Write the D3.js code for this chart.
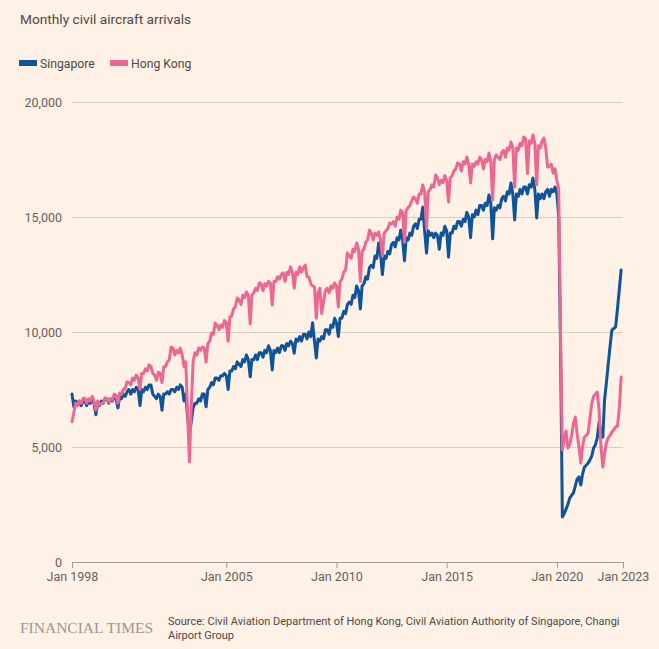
<!DOCTYPE html>
<html>
<head>
<meta charset="utf-8">
<script src="https://cdn.jsdelivr.net/npm/d3@7"></script>
<style>
  html, body { margin: 0; padding: 0; background: #fff1e5; }
  svg { display: block; }
  text { font-family: Roboto, "Noto Sans", sans-serif; }
</style>
</head>
<body>
<svg id="chart" width="659" height="649"></svg>
<script>
// ---- Data (monthly, Jan 1998 – Dec 2022) ----
const startYear = 1998;
const seriesNames = ["Singapore", "Hong Kong"];
const seriesColors = ["#0f5499", "#ec6792"];

const singapore = [
  7300, 6750, 7000, 6900, 7000, 6800, 7000, 7000, 6800, 7000, 6900, 7100,   // 1998
  6900, 6400, 6900, 6800, 7000, 6900, 7100, 7100, 6900, 7100, 7000, 7200,   // 1999
  7100, 6700, 7200, 7100, 7300, 7200, 7400, 7500, 7300, 7500, 7400, 7600,   // 2000
  7500, 6800, 7500, 7400, 7600, 7500, 7700, 7700, 7300, 7200, 7100, 7300,   // 2001
  7200, 6600, 7300, 7300, 7400, 7300, 7500, 7500, 7400, 7600, 7500, 7700,   // 2002
  7600, 7000, 7300, 6300, 5600, 6100, 6700, 6900, 6900, 7100, 7000, 7300,   // 2003
  7300, 6750, 7500, 7600, 7800, 7700, 8000, 8000, 7900, 8100, 8100, 8200,   // 2004
  8100, 7500, 8300, 8300, 8500, 8400, 8700, 8600, 8500, 8800, 8700, 9000,   // 2005
  8800, 8050, 8800, 8800, 9000, 8800, 9100, 9100, 8900, 9200, 9100, 9400,   // 2006
  9200, 8350, 9200, 9100, 9300, 9100, 9400, 9400, 9200, 9500, 9400, 9600,   // 2007
  9500, 9080, 9700, 9600, 9800, 9600, 9900, 9900, 9700, 10000, 9800, 10400, // 2008
  9600, 8870, 9700, 9600, 9800, 9700, 10100, 10100, 9900, 10300, 10200, 10600, // 2009
  10400, 9800, 10600, 10600, 10900, 10800, 11200, 11300, 11200, 11600, 11500, 12000, // 2010
  11800, 11000, 12000, 12100, 12400, 12300, 12800, 12900, 12800, 13300, 13200, 13870, // 2011
  13400, 12500, 13300, 13200, 13500, 13400, 13800, 13900, 13700, 14100, 14000, 14430, // 2012
  14000, 13100, 14100, 14000, 14300, 14200, 14600, 14700, 14500, 14900, 14900, 15430, // 2013
  14400, 13430, 14400, 14200, 14300, 14100, 14300, 14200, 13600, 14300, 14200, 14600, // 2014
  14400, 13260, 14300, 14300, 14600, 14500, 14800, 14800, 14600, 14900, 14800, 15200, // 2015
  15000, 14100, 15100, 15000, 15300, 15100, 15500, 15500, 15300, 15600, 15500, 15960, // 2016
  15600, 14050, 15400, 15300, 15500, 15400, 15800, 15900, 15700, 16100, 16000, 16480, // 2017
  16000, 14870, 16000, 15900, 16200, 16000, 16300, 16300, 16000, 16400, 16300, 16700, // 2018
  16200, 14960, 16000, 15800, 16000, 15800, 16100, 16200, 15900, 16200, 16100, 16300, // 2019
  16000, 15000, 9500, 1960, 2100, 2300, 2500, 2780, 2900, 3000, 3300, 3600,         // 2020
  3700, 3350, 3800, 4130, 4200, 4300, 4430, 4600, 4960, 5100, 5400, 6090,           // 2021
  5600, 5430, 7040, 7800, 8600, 9400, 10090, 10150, 10220, 11000, 11850, 12700      // 2022
];

const hongKong = [
  6100, 6500, 6900, 6800, 7000, 6900, 7100, 7130, 6900, 7100, 7000, 7200,   // 1998
  7000, 6600, 7000, 6830, 6900, 6900, 7130, 7100, 6950, 7100, 7050, 7300,   // 1999
  7250, 6900, 7350, 7300, 7500, 7550, 7830, 7800, 7700, 8000, 7900, 8130,   // 2000
  8000, 7500, 8200, 8200, 8400, 8300, 8570, 8500, 8200, 8130, 7900, 8250,   // 2001
  8200, 7800, 8480, 8500, 8700, 8800, 9350, 9300, 9000, 9200, 9090, 9300,   // 2002
  9000, 8500, 8700, 6500, 4350, 6800, 8700, 9100, 9000, 9300, 9200, 9350,   // 2003
  9300, 8700, 9500, 9600, 9960, 9900, 10390, 10300, 10100, 10300, 10200, 10500, // 2004
  10400, 9600, 10650, 10700, 11000, 11100, 11480, 11400, 11200, 11600, 11500, 11740, // 2005
  11600, 10350, 11600, 11700, 11900, 11800, 12130, 12100, 11800, 12100, 12000, 12200, // 2006
  12130, 11170, 12200, 12200, 12400, 12300, 12500, 12570, 12200, 12600, 12500, 12830, // 2007
  12600, 11910, 12600, 12500, 12830, 12600, 12800, 12910, 12400, 12390, 12100, 12000, // 2008
  11960, 10600, 11700, 11900, 10800, 11300, 11800, 11900, 11700, 12000, 11900, 12130, // 2009
  12000, 11090, 12200, 12300, 12610, 12700, 13430, 13300, 13200, 13600, 13500, 13870, // 2010
  13600, 12200, 13500, 13600, 13900, 14000, 14430, 14300, 14000, 14300, 14200, 14350, // 2011
  14000, 13300, 14300, 14400, 14500, 14740, 14700, 14800, 14600, 15000, 14900, 15300, // 2012
  15200, 13900, 15300, 15400, 15500, 15700, 15870, 15800, 15600, 16000, 16000, 16390, // 2013
  16100, 14500, 16100, 16200, 16400, 16300, 16830, 16700, 16400, 16600, 16500, 16800, // 2014
  16600, 15650, 16700, 16800, 17000, 17100, 17350, 17300, 17000, 17400, 17300, 17610, // 2015
  17300, 16480, 17300, 17200, 17400, 17300, 17600, 17500, 17100, 17500, 17400, 17780, // 2016
  17400, 15740, 17500, 17700, 17600, 17500, 17800, 17900, 17600, 18000, 17900, 18260, // 2017
  18000, 16300, 18000, 17900, 18200, 18100, 18480, 18400, 16900, 18300, 18200, 18570, // 2018
  18200, 16400, 18100, 18000, 18300, 18430, 18000, 17170, 17200, 17300, 16910, 17100, // 2019
  16600, 16200, 10000, 4870, 5300, 5700, 4960, 5100, 5500, 6000, 6300, 5600,        // 2020
  5000, 4300, 5000, 5430, 5500, 5600, 6200, 6900, 7200, 7300, 7390, 6600,           // 2021
  5000, 4130, 4700, 5170, 5400, 5500, 5650, 5750, 5870, 5900, 6700, 8040            // 2022
];

const yTicks = [0, 5000, 10000, 15000, 20000];
const xTickYears = [1998, 2005, 2010, 2015, 2020, 2023];
const titleText = "Monthly civil aircraft arrivals";
const sourceLines = [
  "Source: Civil Aviation Department of Hong Kong, Civil Aviation Authority of Singapore, Changi",
  "Airport Group"
];

// ---- Layout ----
const svg = d3.select("#chart");
const W = 659, H = 649;
const plotLeft = 72, plotRight = 623, plotTop = 102, plotBottom = 562;

svg.append("rect").attr("width", W).attr("height", H).attr("fill", "#fff1e5");

const x = d3.scaleTime()
  .domain([new Date(startYear, 0, 1), new Date(2023, 0, 1)])
  .range([plotLeft, plotRight]);
const y = d3.scaleLinear().domain([0, 20000]).range([plotBottom, plotTop]);

// Title
svg.append("text").attr("x", 20).attr("y", 24)
  .attr("font-size", 13.7).attr("fill", "#4d4845").text(titleText);

// Legend
const legend = svg.append("g");
const legendX = [19, 110];
seriesNames.forEach((name, i) => {
  legend.append("rect").attr("x", legendX[i]).attr("y", 60)
    .attr("width", 18).attr("height", 6).attr("fill", seriesColors[i]);
  legend.append("text").attr("x", legendX[i] + 21).attr("y", 67.5)
    .attr("font-size", 12.2).attr("fill", "#4d4845").text(name);
});

// Y axis with gridlines
const yAxis = svg.append("g").attr("transform", `translate(${plotLeft},0)`)
  .call(d3.axisLeft(y).tickValues(yTicks).tickSize(-(plotRight - plotLeft)).tickPadding(10)
    .tickFormat(d3.format(",")));
yAxis.select(".domain").remove();
yAxis.selectAll(".tick line").attr("stroke", "#d9cdc2").attr("stroke-width", 1);
yAxis.selectAll(".tick text").attr("font-size", 12.5).attr("fill", "#66605c")
  .style("font-family", "Roboto, sans-serif");

// X axis
const xAxis = svg.append("g").attr("transform", `translate(0,${plotBottom})`)
  .call(d3.axisBottom(x).tickValues(xTickYears.map(yr => new Date(yr, 0, 1)))
    .tickSize(6).tickSizeOuter(0).tickPadding(4).tickFormat(d3.timeFormat("Jan %Y")));
xAxis.select(".domain").attr("stroke", "#a39a93");
xAxis.selectAll(".tick line").attr("stroke", "#a39a93");
xAxis.selectAll(".tick text").attr("font-size", 12.5).attr("fill", "#66605c")
  .style("font-family", "Roboto, sans-serif");

// Lines
const toPoints = arr => arr.map((v, i) => ({ date: new Date(startYear, i, 1), value: v }));
const line = d3.line().x(d => x(d.date)).y(d => y(d.value));
[singapore, hongKong].forEach((arr, i) => {
  svg.append("path").datum(toPoints(arr))
    .attr("fill", "none").attr("stroke", seriesColors[i])
    .attr("stroke-width", 3).attr("stroke-linejoin", "round").attr("stroke-linecap", "round")
    .attr("d", line);
});

// Footer
svg.append("text").attr("x", 20).attr("y", 633)
  .attr("font-size", 15.5).attr("fill", "#9e9690")
  .style("font-family", "'Liberation Serif', 'DejaVu Serif', serif")
  .text("FINANCIAL TIMES");
sourceLines.forEach((t, i) => {
  svg.append("text").attr("x", 168).attr("y", 625 + i * 14)
    .attr("font-size", 11).attr("fill", "#4d4845").text(t);
});
</script>
</body>
</html>
